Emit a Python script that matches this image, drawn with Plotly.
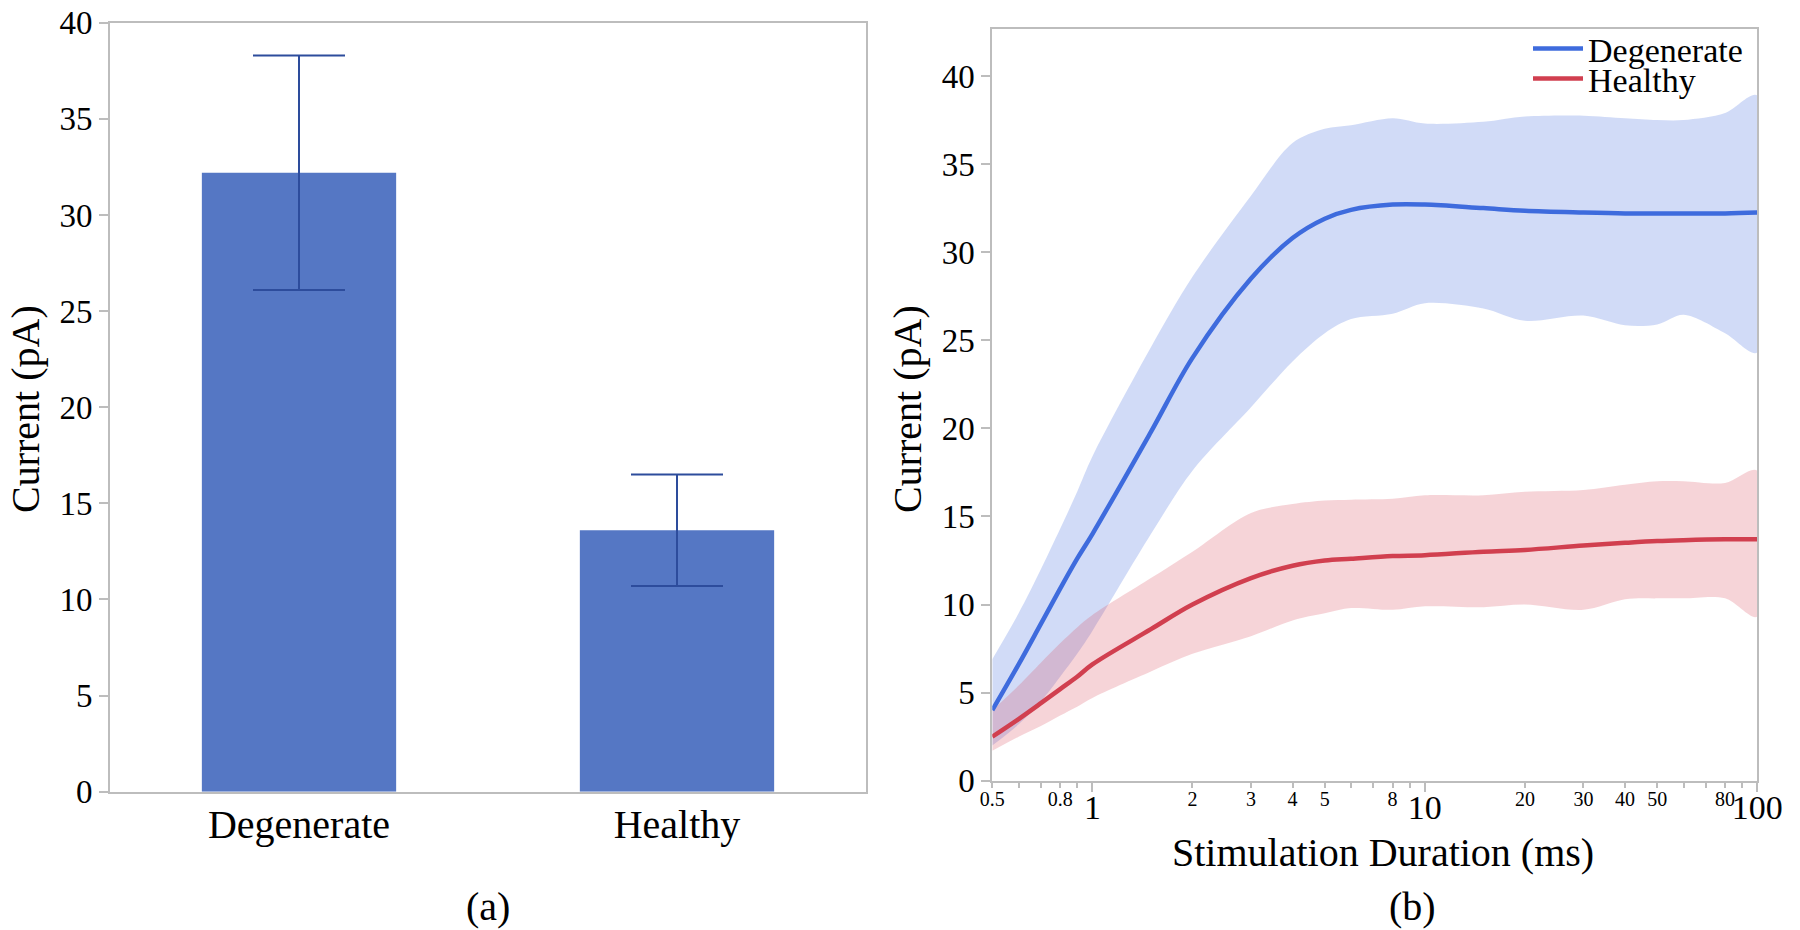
import math
import plotly.graph_objects as go

# ---------------- data ----------------
# panel (a)
groups = ["Degenerate", "Healthy"]
bar_means = [32.2, 13.6]
bar_errors = [6.1, 2.9]

# panel (b)
duration_ms = [0.5, 0.6, 0.7, 0.8, 0.9, 1, 1.5, 2, 3, 4, 5, 6, 8, 10, 15, 20, 30, 40, 50, 60, 80, 100]
degen_mean = [4.0, 6.6, 8.9, 10.9, 12.6, 14.0, 19.8, 24.0, 28.5, 30.8, 31.9, 32.4, 32.7, 32.7, 32.5, 32.35, 32.25, 32.2, 32.2, 32.2, 32.2, 32.25]
degen_upper = [6.9, 9.5, 12.0, 14.3, 16.4, 18.4, 24.6, 28.6, 33.2, 36.2, 37.0, 37.2, 37.6, 37.3, 37.4, 37.7, 37.75, 37.6, 37.5, 37.5, 37.9, 38.9]
degen_lower = [2.0, 3.2, 4.5, 5.9, 7.2, 8.5, 14.0, 17.6, 21.2, 23.8, 25.4, 26.2, 26.5, 27.1, 26.8, 26.1, 26.4, 25.85, 25.9, 26.45, 25.4, 24.3]
healthy_mean = [2.5, 3.5, 4.4, 5.2, 5.9, 6.6, 8.6, 10.0, 11.5, 12.2, 12.5, 12.6, 12.75, 12.8, 13.0, 13.1, 13.35, 13.5, 13.6, 13.65, 13.7, 13.7]
healthy_upper = [4.0, 5.4, 6.7, 7.8, 8.7, 9.4, 11.5, 13.0, 15.2, 15.7, 15.9, 15.95, 16.0, 16.2, 16.2, 16.4, 16.5, 16.8, 17.0, 17.0, 16.9, 17.6]
healthy_lower = [1.7, 2.5, 3.1, 3.7, 4.2, 4.7, 6.2, 7.2, 8.2, 9.1, 9.5, 9.8, 9.7, 9.9, 9.85, 10.0, 9.7, 10.3, 10.35, 10.35, 10.35, 9.3]

small_tickvals = [0.5, 0.8, 2, 3, 4, 5, 8, 20, 30, 40, 50, 80]
small_ticktext = ["0.5", "0.8", "2", "3", "4", "5", "8", "20", "30", "40", "50", "80"]
big_tickvals = [1, 10, 100]
big_ticktext = ["1", "10", "100"]
minor_tickvals = [0.5, 0.6, 0.7, 0.8, 0.9, 2, 3, 4, 5, 6, 7, 8, 9, 20, 30, 40, 50, 60, 70, 80, 90]

# ---------------- style ----------------
FONT = "Liberation Serif, Times New Roman, serif"
GRAY = "#BDBDBD"
BAR = "#5577C4"
ERR = "#2D4C9C"
BLUE = "#3E6BDD"
RED = "#D13F4F"
PAGE_MARGIN = 8            # default body margin of the html page
W, H = 1800 - PAGE_MARGIN, 930 - PAGE_MARGIN


def px_x(v):
    # screen x (px) -> paper fraction
    return (v - PAGE_MARGIN) / W


def px_y(v):
    # screen y (px, from top) -> paper fraction
    return 1 - (v - PAGE_MARGIN) / H


fig = go.Figure()

fig.add_trace(go.Bar(
    x=groups, y=bar_means, width=0.514,
    marker=dict(color=BAR, line=dict(width=0)),
    error_y=dict(type="data", array=bar_errors, color=ERR, thickness=2, width=46),
    xaxis="x", yaxis="y", showlegend=False,
))

# bands
fig.add_trace(go.Scatter(
    x=duration_ms + duration_ms[::-1], y=degen_upper + degen_lower[::-1],
    fill="toself", fillcolor="rgba(70,110,225,0.25)", line=dict(width=0, shape="spline", smoothing=0.9),
    mode="lines", hoverinfo="skip", showlegend=False, xaxis="x2", yaxis="y2",
))
fig.add_trace(go.Scatter(
    x=duration_ms + duration_ms[::-1], y=healthy_upper + healthy_lower[::-1],
    fill="toself", fillcolor="rgba(215,70,85,0.23)", line=dict(width=0, shape="spline", smoothing=0.9),
    mode="lines", hoverinfo="skip", showlegend=False, xaxis="x2", yaxis="y2",
))
fig.add_trace(go.Scatter(
    x=duration_ms, y=degen_mean, mode="lines", name="Degenerate",
    line=dict(color=BLUE, width=4.5, shape="spline", smoothing=1.0),
    xaxis="x2", yaxis="y2", legend="legend",
))
fig.add_trace(go.Scatter(
    x=duration_ms, y=healthy_mean, mode="lines", name="Healthy",
    line=dict(color=RED, width=4.5, shape="spline", smoothing=1.0),
    xaxis="x2", yaxis="y2", legend="legend2",
))
# invisible helper so the overlaid axis carrying the small tick labels is drawn
fig.add_trace(go.Scatter(
    x=duration_ms, y=healthy_mean, mode="lines", line=dict(width=0, color="rgba(0,0,0,0)"),
    opacity=0, hoverinfo="skip", showlegend=False, xaxis="x3", yaxis="y2",
))

xr = [math.log10(0.5), 2]

fig.update_layout(
    width=W, height=H,
    margin=dict(l=0, r=0, t=0, b=0, autoexpand=False),
    paper_bgcolor="white", plot_bgcolor="white",
    font=dict(family=FONT, color="black"),
    xaxis=dict(
        domain=[px_x(110), px_x(866)], anchor="y", type="category", range=[-0.5, 1.5],
        showline=True, mirror=True, linecolor=GRAY, linewidth=2, ticks="", ticklabelstandoff=-4,
        tickfont=dict(size=40, family=FONT), showgrid=False, zeroline=False, automargin=False,
    ),
    yaxis=dict(
        domain=[px_y(791.7), px_y(22.7)], anchor="x", range=[0, 40], dtick=5,
        showline=True, mirror=True, linecolor=GRAY, linewidth=2,
        ticks="outside", ticklen=9, tickwidth=2, tickcolor=GRAY, ticklabeloverflow="allow",
        tickfont=dict(size=33, family=FONT), showgrid=False, zeroline=False, automargin=False,
    ),
    xaxis2=dict(
        domain=[px_x(992.3), px_x(1757.3)], anchor="y2", type="log", range=xr,
        showline=True, mirror=True, linecolor=GRAY, linewidth=2,
        tickvals=big_tickvals, ticktext=big_ticktext, ticklabeloverflow="allow",
        ticks="outside", ticklen=9, tickwidth=2, tickcolor=GRAY, ticklabelstandoff=-14,
        minor=dict(tickvals=minor_tickvals, ticks="outside", ticklen=5, tickwidth=2, tickcolor=GRAY, showgrid=False),
        tickfont=dict(size=34, family=FONT), showgrid=False, zeroline=False, automargin=False,
    ),
    xaxis3=dict(
        overlaying="x2", anchor="y2", type="log", range=xr,
        tickvals=small_tickvals, ticktext=small_ticktext, ticks="", ticklabelstandoff=4,
        showline=False, showgrid=False, zeroline=False, automargin=False,
        tickfont=dict(size=20, family=FONT),
    ),
    yaxis2=dict(
        domain=[px_y(780.7), px_y(29.3)], anchor="x2", range=[0, 42.65], dtick=5,
        showline=True, mirror=True, linecolor=GRAY, linewidth=2,
        ticks="outside", ticklen=9, tickwidth=2, tickcolor=GRAY,
        tickfont=dict(size=33, family=FONT), showgrid=False, zeroline=False, automargin=False,
    ),
    legend=dict(
        x=px_x(1528), y=px_y(20), xanchor="left", yanchor="top",
        bgcolor="rgba(0,0,0,0)", borderwidth=0, itemwidth=50,
        font=dict(size=34, family=FONT), tracegroupgap=0,
    ),
    legend2=dict(
        x=px_x(1528), y=px_y(50), xanchor="left", yanchor="top",
        bgcolor="rgba(0,0,0,0)", borderwidth=0, itemwidth=50,
        font=dict(size=34, family=FONT), tracegroupgap=0,
    ),
    annotations=[
        dict(text="Current (pA)", x=px_x(25), y=px_y(409), xref="paper", yref="paper", textangle=-90,
             showarrow=False, font=dict(size=40, family=FONT), xanchor="center", yanchor="middle"),
        dict(text="Current (pA)", x=px_x(907), y=px_y(409), xref="paper", yref="paper", textangle=-90,
             showarrow=False, font=dict(size=40, family=FONT), xanchor="center", yanchor="middle"),
        dict(text="Stimulation Duration (ms)", x=px_x(1383), y=px_y(852), xref="paper", yref="paper",
             showarrow=False, font=dict(size=40, family=FONT), xanchor="center", yanchor="middle"),
        dict(text="(a)", x=px_x(488), y=px_y(906), xref="paper", yref="paper",
             showarrow=False, font=dict(size=40, family=FONT), xanchor="center", yanchor="middle"),
        dict(text="(b)", x=px_x(1412), y=px_y(906), xref="paper", yref="paper",
             showarrow=False, font=dict(size=40, family=FONT), xanchor="center", yanchor="middle"),
    ],
)

fig.write_html("out.html")
